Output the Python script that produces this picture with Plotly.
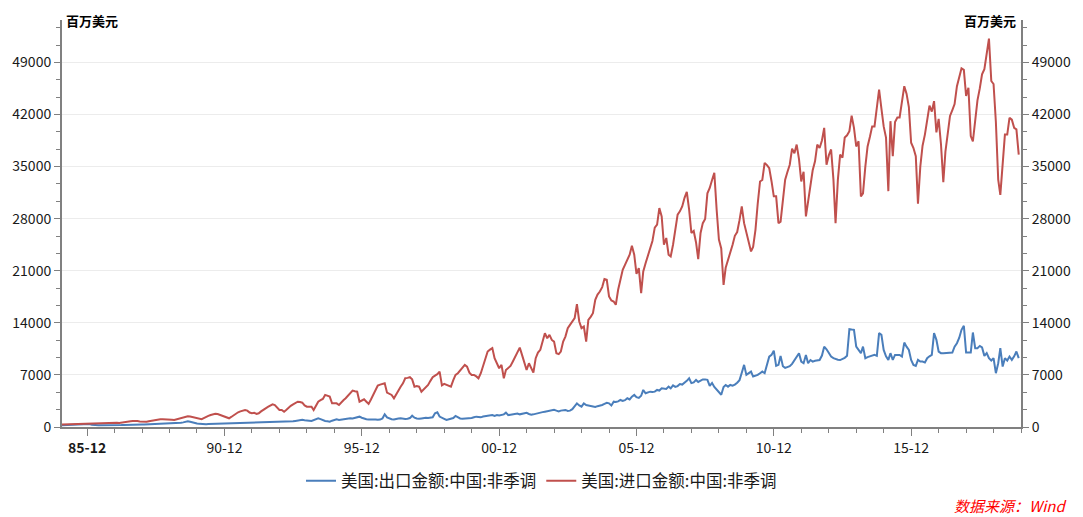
import pandas as pd
import plotly.graph_objects as go

start_month = "1985-01-01"
series_names = ["美国:出口金额:中国:非季调", "美国:进口金额:中国:非季调"]
unit_label = "百万美元"
source_label = "数据来源：Wind"

imports_1985_1994 = [
    350, 360, 380, 390, 400, 420, 430, 450, 460, 470, 460, 480,
    470, 440, 480, 500, 530, 560, 590, 600, 610, 590, 560, 560,
    560, 540, 600, 650, 700, 740, 780, 800, 820, 790, 740, 720,
    740, 700, 780, 850, 920, 960, 1000, 1030, 1040, 1000, 960, 950,
    960, 940, 1020, 1120, 1230, 1320, 1390, 1440, 1420, 1350, 1200, 1150,
    1080, 1050, 1200, 1390, 1500, 1620, 1710, 1780, 1750, 1650, 1450, 1350,
    1300, 1170, 1350, 1600, 1840, 1980, 2100, 2200, 2290, 2200, 1950, 1850,
    1900, 1750, 1840, 2100, 2350, 2510, 2700, 2900, 3050, 2950, 2600, 2300,
    2300, 2060, 2300, 2600, 2850, 3050, 3250, 3400, 3350, 3270, 2900, 2730,
    2730, 2730, 2290, 2900, 3400, 3600, 3770, 4310, 4200, 4080, 3180, 3150,
]
imports_1995_2004 = [
    3180, 2960, 3300, 3600, 3860, 4200, 4440, 4890, 4800, 4750, 3400, 3600,
    3730, 3400, 3100, 3700, 4310, 5000, 5560, 5700, 5800, 5870, 4620, 4500,
    4310, 3860, 4400, 4980, 5400, 5870, 6550, 6600, 6690, 6400, 5420, 5500,
    5420, 4750, 5000, 5400, 5650, 6200, 6690, 6910, 7100, 7440, 5600, 5800,
    5650, 5500, 5420, 6300, 7000, 7230, 7600, 8000, 8350, 8100, 7300, 7000,
    7000, 6800, 6550, 7230, 8300, 9200, 10140, 10400, 10600, 9250, 8500, 7900,
    8350, 6550, 7670, 7900, 8200, 8800, 9400, 10100, 10670, 9700, 8600, 7670,
    8570, 7900, 7310, 9250, 10000, 10380, 11480, 12610, 11930, 12380, 11700, 11480,
    9920, 9800, 10140, 11480, 12150, 13290, 13730, 14200, 14630, 16500, 14180, 13290,
    13500, 11480, 14400, 14800, 15300, 17100, 17800, 18210, 18800, 19880, 19790, 17540,
]
imports_2005_2014 = [
    17000, 16870, 16420, 18440, 19800, 21130, 21800, 22500, 23150, 24360, 23150, 20590,
    21360, 17990, 20900, 22000, 23000, 24050, 25000, 26800, 27190, 29430, 28300, 24500,
    25400, 23150, 22920, 24500, 26750, 28540, 28980, 29650, 30800, 31590, 29200, 26080,
    26350, 24800, 22570, 26080, 27400, 27950, 31410, 32130, 33200, 34150, 29200, 25200,
    24000, 19100, 21400, 22400, 23400, 24500, 25700, 26200, 27800, 29650, 27400, 26200,
    25000, 23600, 24200, 26500, 30000, 33000, 33200, 35500, 35200, 34800, 33000, 31000,
    31000, 27400, 27600, 30500, 33250, 34300, 35250, 37400, 36800, 37950, 36000, 33000,
    34300, 28300, 30500, 32350, 34500, 35700, 37950, 37500, 38500, 40200, 35250, 36500,
    37300, 33250, 27400, 33250, 36600, 36200, 38900, 39200, 39750, 41850, 40200, 37700,
    38400, 31000, 31400, 35000, 37700, 39000, 40400, 40400, 42800, 45360, 42800, 40400,
]
imports_2015_2019 = [
    38900, 31700, 41100, 36400, 41000, 41600, 41600, 43500, 45800, 44800, 43000, 38200,
    37500, 36400, 30000, 35000, 37800, 39300, 41000, 43200, 42400, 43800, 39600, 41400,
    38000, 32900, 37000, 39500, 41800, 42600, 43400, 45800, 47000, 48200, 48000, 44500,
    45600, 39100, 38400, 41000, 43900, 45500, 47400, 48100, 50000, 52200, 46500, 46100,
    41000, 33250, 31200, 35500, 39300, 39300, 41550, 41300, 40200, 40000, 36600,
]

exports_1985_1994 = [
    250, 270, 290, 300, 310, 320, 330, 340, 350, 380, 420, 470,
    400, 300, 250, 230, 240, 250, 240, 230, 250, 260, 270, 240,
    230, 240, 260, 270, 290, 290, 300, 310, 310, 320, 330, 340,
    330, 340, 360, 380, 400, 420, 430, 450, 460, 480, 490, 480,
    430, 450, 480, 520, 560, 620, 700, 760, 700, 600, 520, 480,
    420, 380, 370, 380, 390, 400, 390, 380, 400, 420, 430, 460,
    450, 460, 480, 490, 500, 510, 530, 540, 560, 580, 570, 600,
    560, 540, 570, 590, 600, 620, 630, 640, 650, 680, 660, 680,
    640, 660, 700, 720, 750, 780, 820, 900, 940, 960, 900, 920,
    850, 820, 950, 1050, 1170, 1050, 900, 800, 760, 710, 850, 950,
]
exports_1995_2004 = [
    1030, 950, 1000, 1050, 1100, 1150, 1170, 1150, 1200, 1300, 1390, 1250,
    1100, 1050, 1000, 1030, 1000, 1020, 980, 1000, 1150, 1710, 1300, 1150,
    1050, 1000, 1100, 1150, 1170, 1100, 1080, 1100, 1200, 1520, 1250, 1150,
    1100, 1150, 1200, 1250, 1200, 1250, 1300, 1840, 1980, 1400, 1300, 1100,
    940, 1000, 1100, 1200, 1480, 1250, 1150, 1100, 1120, 1150, 1080, 1200,
    1300, 1390, 1350, 1300, 1400, 1450, 1500, 1550, 1620, 1500, 1620, 1550,
    1600, 1700, 1930, 1600, 1650, 1700, 1750, 1800, 1700, 1750, 1840, 1900,
    1750, 1650, 1700, 1800, 1850, 1900, 2000, 2060, 2100, 2150, 2200, 2300,
    2200, 2100, 2200, 2300, 2290, 2150, 2200, 2400, 2800, 3180, 2900, 2730,
    3180, 2960, 2900, 2800, 2730, 2690, 2800, 2850, 2960, 3100, 3250, 3180,
]
exports_2005_2014 = [
    2900, 3400, 3350, 3450, 3630, 3500, 3600, 3860, 3700, 4080, 4310, 4000,
    3900, 4200, 4980, 4530, 4600, 4750, 4700, 4750, 4980, 4900, 5200, 5100,
    5100, 5420, 5200, 5600, 5400, 5500, 5780, 5700, 5900, 6200, 6550, 5900,
    6000, 6330, 6060, 6200, 6400, 6400, 6330, 5520, 5920, 5380, 5020, 4600,
    4330, 5380, 5650, 5420, 5650, 5560, 5700, 5960, 6300, 7300, 8350, 7000,
    7230, 7450, 6780, 6870, 7000, 7230, 7450, 7230, 8500, 9460, 9690, 10270,
    8210, 8350, 9560, 8170, 7950, 8100, 8170, 8480, 9000, 9460, 9920, 8790,
    8570, 9690, 8570, 9000, 8790, 8900, 9000, 9000, 9600, 10800, 10450, 9920,
    9460, 9250, 9110, 9050, 9000, 9110, 9300, 9560, 13150, 13100, 13060, 10800,
    10360, 9920, 10800, 9250, 9400, 9470, 9600, 9690, 9560, 12610, 12380, 10360,
]
exports_2015_2019 = [
    9500, 9020, 9920, 9020, 9690, 9690, 9690, 9470, 11350, 10800, 10360, 9000,
    8350, 8210, 9020, 8790, 8790, 8660, 9250, 9500, 9690, 12610, 11720, 10140,
    9920, 9920, 9920, 9950, 10000, 10000, 10800, 11260, 12000, 13060, 13600, 10000,
    10000, 10000, 12700, 10600, 10600, 10900, 10700, 9560, 9920, 9250, 8930, 9250,
    7230, 8570, 10600, 8120, 9250, 8930, 9470, 9020, 9500, 10140, 9250,
]

y_ticks = [0, 7000, 14000, 21000, 28000, 35000, 42000, 49000]
y_tick_labels = ["0", "7000", "14000", "21000", "28000", "35000", "42000", "49000"]
x_tick_dates = ["1985-12-01", "1990-12-01", "1995-12-01", "2000-12-01",
                "2005-12-01", "2010-12-01", "2015-12-01"]
x_tick_labels = ["<b>85-12</b>", "90-12", "95-12", "00-12", "05-12", "10-12", "15-12"]

imports = imports_1985_1994 + imports_1995_2004 + imports_2005_2014 + imports_2015_2019
exports = exports_1985_1994 + exports_1995_2004 + exports_2005_2014 + exports_2015_2019
dates = pd.date_range(start_month, periods=len(imports), freq="MS")

FONT = "Noto Sans CJK SC, Noto Sans, sans-serif"
AX = "#808080"
y_max = 54700

fig = go.Figure()
fig.add_trace(go.Scatter(x=dates, y=exports, mode="lines", name=series_names[0],
                         line=dict(color="#4a7ebb", width=2), yaxis="y"))
fig.add_trace(go.Scatter(x=dates, y=imports, mode="lines", name=series_names[1],
                         line=dict(color="#c0504d", width=2), yaxis="y2"))

common_y = dict(range=[0, y_max], tickmode="array", tickvals=y_ticks, ticktext=y_tick_labels,
                ticks="outside", ticklen=6, tickwidth=1, tickcolor=AX,
                showline=True, linecolor=AX, linewidth=2,
                tickfont=dict(family=FONT, size=14, color="#1a1a1a"),
                minor=dict(dtick=7000 / 3, tick0=0, ticks="outside", ticklen=4,
                           tickcolor=AX, showgrid=False),
                zeroline=False, fixedrange=True)

fig.update_layout(
    width=1083, height=517,
    margin=dict(l=62, r=57, t=20, b=90),
    paper_bgcolor="white", plot_bgcolor="white",
    font=dict(family=FONT, color="#1a1a1a"),
    xaxis=dict(type="date", range=["1985-01-01", "2019-12-01"],
               tickmode="array", tickvals=x_tick_dates, ticktext=x_tick_labels,
               ticks="outside", ticklen=7, tickwidth=1, tickcolor=AX,
               showline=True, linecolor=AX, linewidth=2, showgrid=False,
               tickfont=dict(family=FONT, size=14, color="#1a1a1a"),
               minor=dict(dtick="M12", tick0="1985-12-01", ticks="outside",
                          ticklen=4, tickcolor=AX, showgrid=False),
               zeroline=False),
    yaxis=dict(side="left", showgrid=True, gridcolor="#ececec", gridwidth=1, **common_y),
    yaxis2=dict(side="right", overlaying="y", showgrid=False, **common_y),
    legend=dict(orientation="h", x=0.5, xanchor="center", y=-0.133, yanchor="middle",
                font=dict(family=FONT, size=16.5, color="#1a1a1a"),
                itemwidth=30, bgcolor="rgba(0,0,0,0)"),
    showlegend=True,
)

fig.add_annotation(text="<b>" + unit_label + "</b>", xref="paper", yref="paper",
                   x=0.002, y=1.0, xanchor="left", yanchor="middle", showarrow=False,
                   font=dict(family=FONT, size=13, color="#000000"))
fig.add_annotation(text="<b>" + unit_label + "</b>", xref="paper", yref="paper",
                   x=0.997, y=1.0, xanchor="right", yanchor="middle", showarrow=False,
                   font=dict(family=FONT, size=13, color="#000000"))
fig.add_annotation(text="<i>" + source_label + "</i>", xref="paper", yref="paper",
                   x=1.049, y=-0.192, xanchor="right", yanchor="middle", showarrow=False,
                   font=dict(family=FONT, size=15, color="#ff0000"))

fig.write_html("out.html", config={"displayModeBar": False},
               post_script="document.body.style.margin='0';document.body.style.overflow='hidden';")
